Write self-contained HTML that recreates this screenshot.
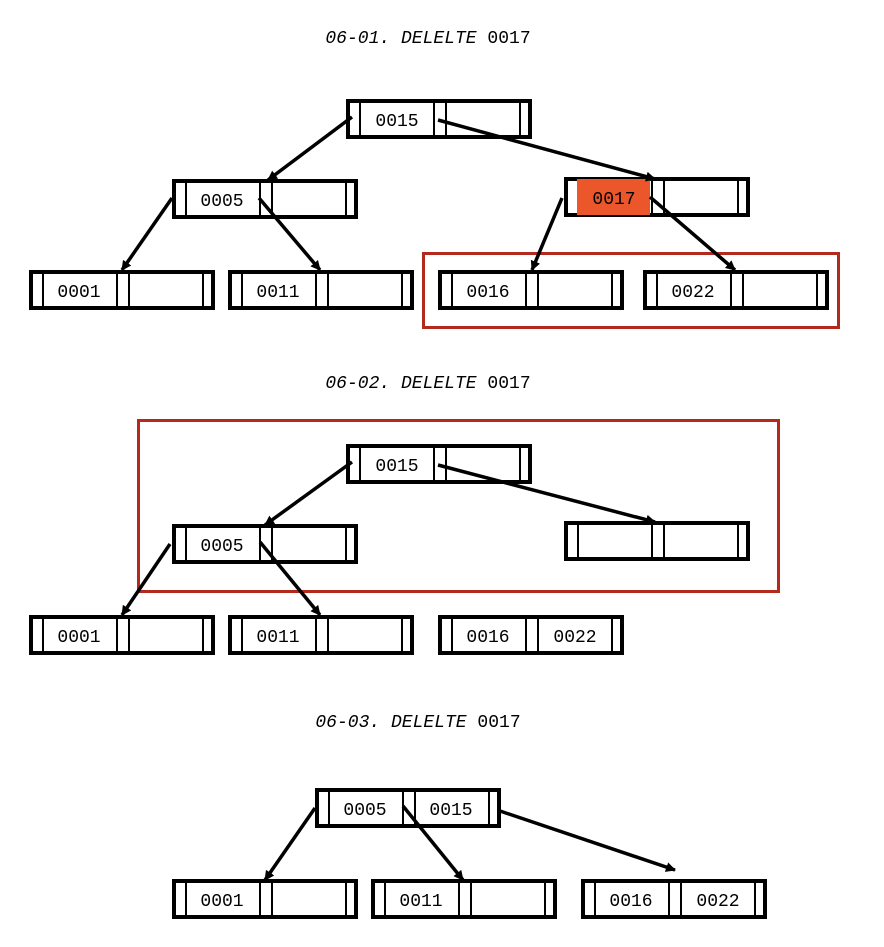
<!DOCTYPE html>
<html><head><meta charset="utf-8"><style>
body{margin:0;background:#fff;}
svg text{font-family:"Liberation Mono",monospace;}
</style></head><body>
<svg width="884" height="942" viewBox="0 0 884 942" xmlns="http://www.w3.org/2000/svg">
<defs>
<marker id="a" markerWidth="10" markerHeight="10" refX="9" refY="5" orient="auto" markerUnits="userSpaceOnUse"><path d="M0,0 L10,5 L0,10 z" fill="#000"/></marker>
<g id="node">
<rect x="2" y="2" width="182" height="36" fill="#fff" stroke="#000" stroke-width="4"/>
<line x1="14" y1="2" x2="14" y2="38" stroke="#000" stroke-width="2"/>
<line x1="88" y1="2" x2="88" y2="38" stroke="#000" stroke-width="2"/>
<line x1="100" y1="2" x2="100" y2="38" stroke="#000" stroke-width="2"/>
<line x1="174" y1="2" x2="174" y2="38" stroke="#000" stroke-width="2"/>
</g>
</defs>
<g font-size="18" text-anchor="middle">
<text x="428" y="43"><tspan font-style="italic">06-01. DELELTE</tspan> 0017</text>
<text x="428" y="388"><tspan font-style="italic">06-02. DELELTE</tspan> 0017</text>
<text x="418" y="727"><tspan font-style="italic">06-03. DELELTE</tspan> 0017</text>
</g>
<!-- diagram 1 -->
<use href="#node" x="346" y="99"/>
<use href="#node" x="172" y="179"/>
<use href="#node" x="564" y="177"/>
<rect x="577" y="179" width="73" height="36" fill="#ec562b"/>
<use href="#node" x="29" y="270"/>
<use href="#node" x="228" y="270"/>
<use href="#node" x="438" y="270"/>
<use href="#node" x="643" y="270"/>
<rect x="423.5" y="253.5" width="415" height="74" fill="none" stroke="#b22a1e" stroke-width="3"/>
<g stroke="#000" stroke-width="3.5" marker-end="url(#a)">
<line x1="352" y1="117" x2="268" y2="180"/>
<line x1="438" y1="120" x2="655" y2="179"/>
<line x1="172" y1="198" x2="122" y2="270"/>
<line x1="259" y1="198" x2="320" y2="270"/>
<line x1="562" y1="198" x2="532" y2="270"/>
<line x1="650" y1="197" x2="735" y2="270"/>
</g>
<g font-size="18" text-anchor="middle">
<text x="397" y="126">0015</text>
<text x="222" y="206">0005</text>
<text x="614" y="204">0017</text>
<text x="79" y="297">0001</text>
<text x="278" y="297">0011</text>
<text x="488" y="297">0016</text>
<text x="693" y="297">0022</text>
</g>
<!-- diagram 2 -->
<use href="#node" x="346" y="444"/>
<use href="#node" x="172" y="524"/>
<use href="#node" x="564" y="521"/>
<use href="#node" x="29" y="615"/>
<use href="#node" x="228" y="615"/>
<use href="#node" x="438" y="615"/>
<rect x="138.5" y="420.5" width="640" height="171" fill="none" stroke="#b22a1e" stroke-width="3"/>
<g stroke="#000" stroke-width="3.5" marker-end="url(#a)">
<line x1="352" y1="462" x2="265" y2="525"/>
<line x1="438" y1="465" x2="655" y2="522"/>
<line x1="170" y1="544" x2="122" y2="615"/>
<line x1="260" y1="542" x2="320" y2="615"/>
</g>
<g font-size="18" text-anchor="middle">
<text x="397" y="471">0015</text>
<text x="222" y="551">0005</text>
<text x="79" y="642">0001</text>
<text x="278" y="642">0011</text>
<text x="488" y="642">0016</text>
<text x="575" y="642">0022</text>
</g>
<!-- diagram 3 -->
<use href="#node" x="315" y="788"/>
<use href="#node" x="172" y="879"/>
<use href="#node" x="371" y="879"/>
<use href="#node" x="581" y="879"/>
<g stroke="#000" stroke-width="3.5" marker-end="url(#a)">
<line x1="315" y1="808" x2="265" y2="880"/>
<line x1="403" y1="806" x2="463" y2="880"/>
<line x1="500" y1="811" x2="675" y2="870"/>
</g>
<g font-size="18" text-anchor="middle">
<text x="365" y="815">0005</text>
<text x="451" y="815">0015</text>
<text x="222" y="906">0001</text>
<text x="421" y="906">0011</text>
<text x="631" y="906">0016</text>
<text x="718" y="906">0022</text>
</g>
</svg>
</body></html>
